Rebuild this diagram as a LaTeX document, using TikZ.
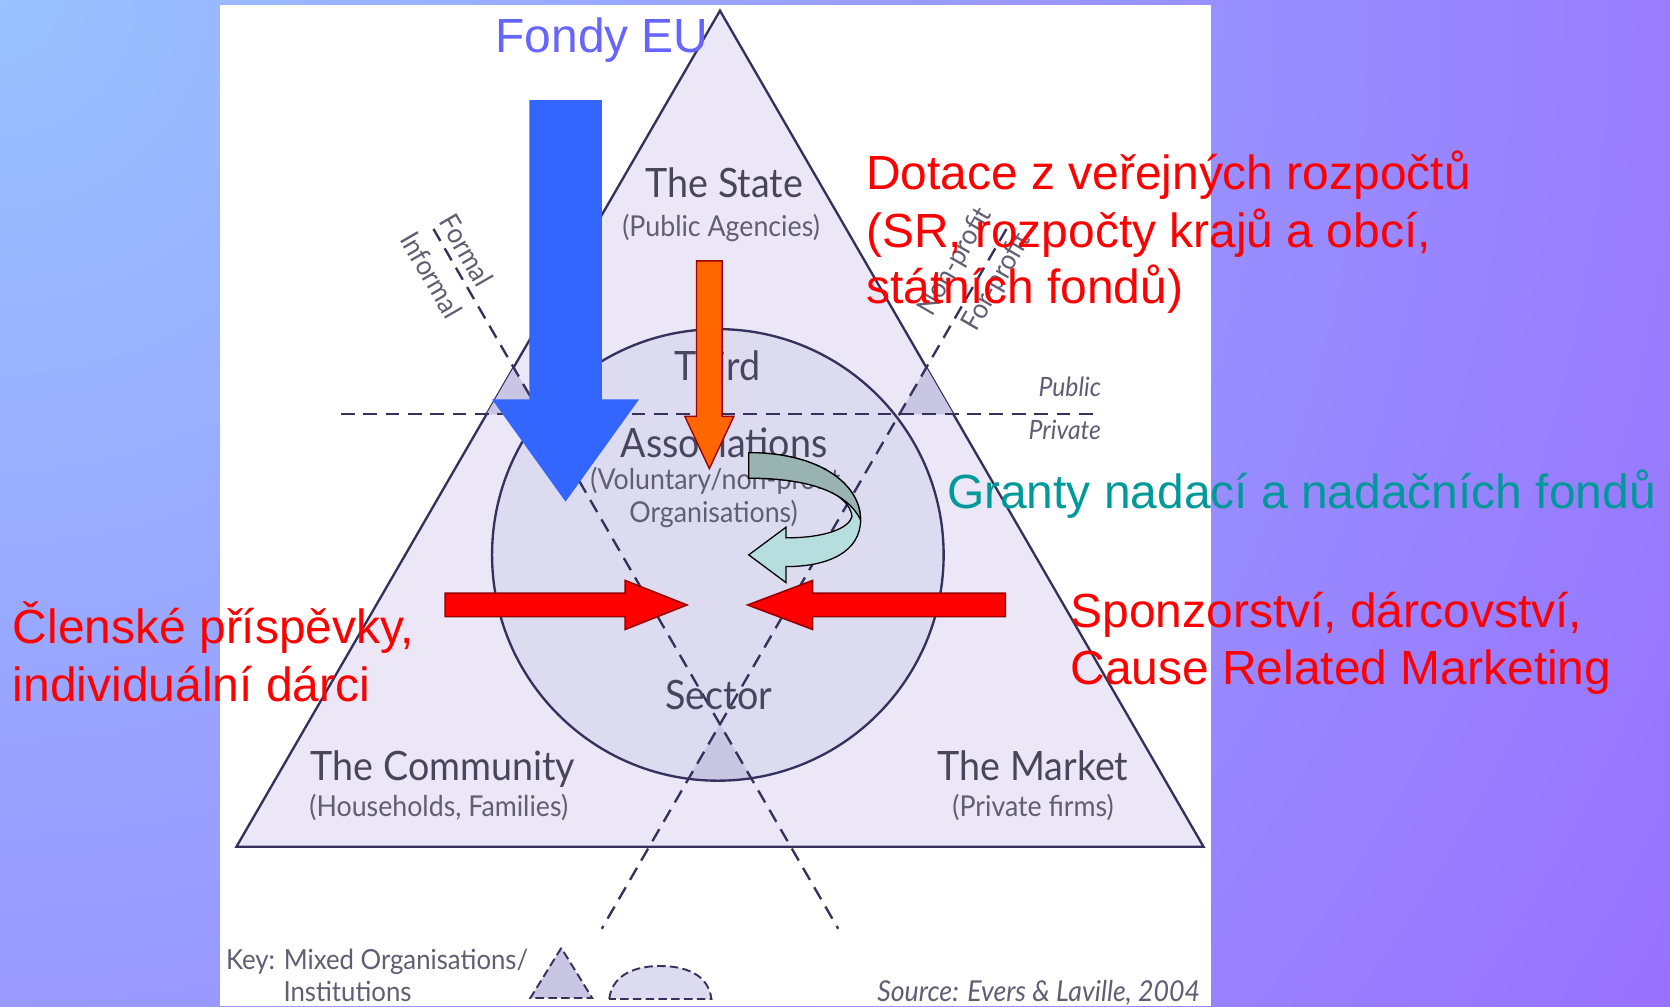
\documentclass[tikz,border=0pt]{standalone}
\usepackage{fontspec}
\setmainfont{Liberation Sans}
\newfontfamily\labfont[FakeStretch=0.93]{Lato}
\definecolor{bgblue}{RGB}{153,194,255}
\definecolor{bgpurple}{RGB}{152,106,255}
\definecolor{trifill}{RGB}{236,231,246}
\definecolor{circfill}{RGB}{221,219,240}
\definecolor{mixfill}{RGB}{200,198,226}
\definecolor{lineclr}{RGB}{52,50,92}
\definecolor{labclr}{RGB}{72,70,92}
\definecolor{subclr}{RGB}{96,94,114}
\definecolor{eublue}{RGB}{102,102,255}
\definecolor{arrblue}{RGB}{51,102,255}
\definecolor{arrorange}{RGB}{255,102,0}
\definecolor{arrred}{RGB}{255,0,0}
\definecolor{darkred}{RGB}{153,0,0}
\definecolor{granttxt}{RGB}{0,153,153}
\definecolor{curvdark}{RGB}{153,178,178}
\definecolor{curvlight}{RGB}{182,222,222}
\begin{document}
\begin{tikzpicture}[x=1pt,y=-1pt,
  mainline/.style={draw=lineclr, line width=2.2pt},
  dashline/.style={draw=lineclr, line width=2.2pt, dash pattern=on 13pt off 8pt},
  bigl/.style={font=\labfont\fontsize{38}{40}\selectfont, text=labclr, inner sep=0pt, anchor=base},
  subl/.style={font=\labfont\fontsize{27}{29}\selectfont, text=subclr, inner sep=0pt, anchor=base},
  tinyl/.style={font=\labfont\fontsize{26}{28}\selectfont, text=subclr, inner sep=0pt},
  keyl/.style={font=\labfont\fontsize{26}{28}\selectfont, text=subclr, inner sep=0pt},
  bigtxt/.style={font=\fontsize{45}{54}\selectfont, inner sep=0pt, anchor=base west},
  redarrow/.style={fill=arrred, draw=darkred, line width=1.5pt},
  keydash/.style={draw=lineclr, line width=1.8pt, dash pattern=on 8pt off 4pt},
]
\useasboundingbox (0,0) rectangle (1568,945);
% background
\begin{scope}
  \clip (0,0) rectangle (1568,945);
  \fill[bgpurple] (0,0) rectangle (1568,945);
  \shade[inner color=bgblue, outer color=bgpurple] (0,0) circle (2000);
\end{scope}
\fill[white] (207,5) rectangle (1137,945);

% main triangle
\coordinate (A) at (676,10);
\coordinate (B) at (222,795);
\coordinate (C) at (1130,795);
\filldraw[fill=trifill, mainline] (A) -- (B) -- (C) -- cycle;

% circle
\coordinate (O) at (674,521);
\fill[circfill] (O) circle (212);

% mixed regions
\fill[mixfill] (482.3,345) -- (456.8,389) -- (507.7,389) -- cycle;
\fill[mixfill] (869.7,345) -- (895.2,389) -- (844.3,389) -- cycle;
\begin{scope}
  \clip (O) circle (212);
  \fill[mixfill] (676,680) -- (638,745) -- (714,745) -- cycle;
\end{scope}

% dashed lines
\coordinate (L1t) at (407,215);
\coordinate (L1b) at (787,872);
\coordinate (L2t) at (945,215);
\coordinate (L2b) at (565,872);
\coordinate (H1) at (320,389);
\coordinate (H2) at (1030,389);
\draw[dashline] (L1t) -- (L1b);
\draw[dashline] (L2t) -- (L2b);
\draw[dashline] (H1) -- (H2);

\draw[mainline] (O) circle (212);

% labels
\node[bigl] (state) at (680,185) {The State};
\node[subl] (statesub) at (677,222) {(Public Agencies)};
\node[bigl] (third) at (674,357) {Third};
\node[bigl] (assoc) at (680,430) {Associations};
\node[subl, anchor=base west] (vol) at (554,460) {(Voluntary/non-profit};
\node[subl] (org) at (670,491) {Organisations)};
\node[bigl] (sector) at (675,666) {Sector};
\node[bigl] (comm) at (416,733) {The Community};
\node[subl] (commsub) at (412,767) {(Households, Families)};
\node[bigl] (market) at (970,733) {The Market};
\node[subl] (marketsub) at (970,767) {(Private firms)};

\node[tinyl, rotate=-60] (formal) at (438,235) {Formal};
\node[tinyl, rotate=-60] (informal) at (405,258) {Informal};
\node[tinyl, rotate=60] (nonprofit) at (897,246) {Non-profit};
\node[tinyl, rotate=60] (forprofit) at (936,265) {For-profit};

\node[tinyl, font=\labfont\itshape\fontsize{25}{27}\selectfont, anchor=base east] (public) at (1034,372) {Public};
\node[tinyl, font=\labfont\itshape\fontsize{25}{27}\selectfont, anchor=base east] (private) at (1034,413) {Private};

% key
\node[keyl, anchor=base west] (key1) at (212,910) {Key: Mixed Organisations/};
\node[keyl, anchor=base west] (key2) at (266,940) {Institutions};
\node[keyl, font=\labfont\itshape\fontsize{27}{29}\selectfont, anchor=base east] (src) at (1127,940) {Source: Evers \& Laville, 2004};
\filldraw[fill=mixfill, keydash] (527,890) -- (498,937) -- (556,937) -- cycle;
\filldraw[fill=circfill, keydash] (572,938) .. controls (575,914) and (598,907) .. (620,907) .. controls (642,907) and (665,914) .. (668,938) -- cycle;

% blue arrow
\fill[arrblue] (497,94) -- (565,94) -- (565,375) -- (600,375) -- (531,471) -- (462,375) -- (497,375) -- cycle;
% orange arrow
\filldraw[fill=arrorange, draw=darkred, line width=1.3pt] (654,245) -- (678,245) -- (678,391) -- (689,391) -- (666,440) -- (643,391) -- (654,391) -- cycle;
% curved arrow
\filldraw[fill=curvlight, draw=black, line width=1.2pt] (703,425) .. controls (770,425) and (808,455) .. (808,488) .. controls (808,518) and (778,532) .. (738,532) -- (738,547) -- (703,521) -- (738,495) -- (738,505) .. controls (775,505) and (797,496) .. (800,485) .. controls (797,462) and (760,449) .. (703,449) -- cycle;
\filldraw[fill=curvdark, draw=black, line width=1.2pt] (703,425) .. controls (770,425) and (808,455) .. (808,488) .. controls (795,462) and (760,449) .. (703,449) -- cycle;
% red arrows
\filldraw[redarrow] (418,557) -- (587,557) -- (587,545) -- (645,568) -- (587,591) -- (587,579) -- (418,579) -- cycle;
\filldraw[redarrow] (944,557) -- (763,557) -- (763,545) -- (702,568) -- (763,591) -- (763,579) -- (944,579) -- cycle;

% coloured texts
\node[bigtxt, text=eublue] (eu) at (465,49.5) {Fondy EU};
\node[bigtxt, text=arrred] (dot1) at (813,178) {Dotace z veřejných rozpočtů};
\node[bigtxt, text=arrred] (dot2) at (813,232) {(SR, rozpočty krajů a obcí,};
\node[bigtxt, text=arrred] (dot3) at (813,285) {státních fondů)};
\node[bigtxt, text=granttxt] (grant) at (889,477) {Granty nadací a nadačních fondů};
\node[bigtxt, text=arrred] (spon1) at (1005,589) {Sponzorství, dárcovství,};
\node[bigtxt, text=arrred] (spon2) at (1005,643) {Cause Related Marketing};
\node[bigtxt, text=arrred] (cl1) at (12,604) {Členské příspěvky,};
\node[bigtxt, text=arrred] (cl2) at (12,659) {individuální dárci};
\end{tikzpicture}
\end{document}
